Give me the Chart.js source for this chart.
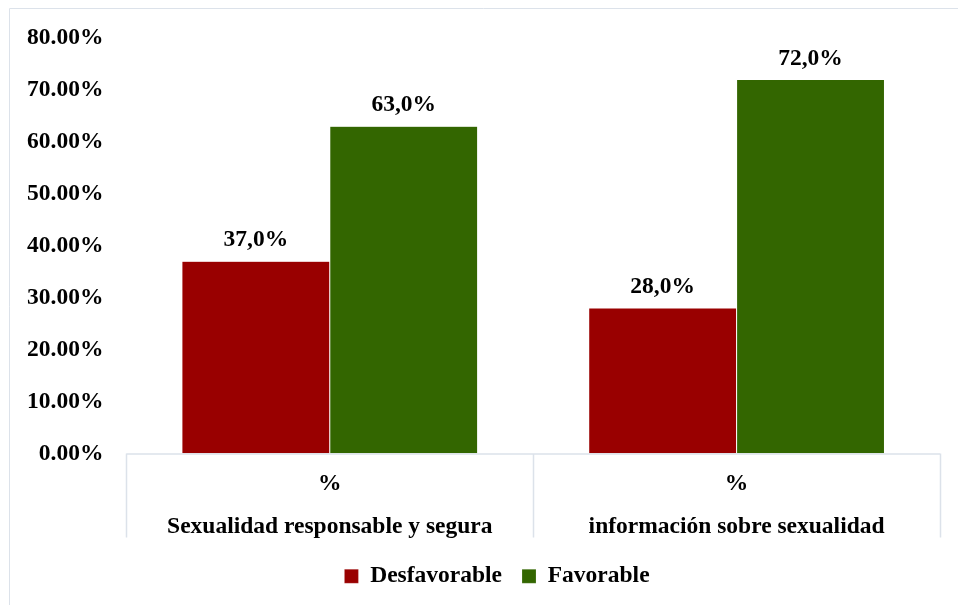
<!DOCTYPE html>
<html><head><meta charset="utf-8">
<script src="https://cdn.jsdelivr.net/npm/chart.js@4"></script>
<style>html,body{margin:0;padding:0;background:#fff;}#wrap{width:958px;height:605px;position:relative;}</style>
</head><body><div id="wrap"><canvas id="c" width="958" height="605"></canvas></div>
<script>
const categories = [["%", "Sexualidad responsable y segura"], ["%", "información sobre sexualidad"]];
const seriesNames = ["Desfavorable", "Favorable"];
const desfavorable = [37.0, 28.0];
const favorable = [63.0, 72.0];
const yTicks = [0, 10, 20, 30, 40, 50, 60, 70, 80];

const FONT = "'Liberation Serif', 'Times New Roman', serif";
const FS = 23.5;
const LINE = "#dce2ea";

const framePlugin = {
  id: 'frame',
  beforeDraw(chart) {
    const ctx = chart.ctx;
    ctx.save();
    ctx.strokeStyle = LINE;
    ctx.lineWidth = 1;
    ctx.beginPath();
    ctx.moveTo(9.5, chart.height);
    ctx.lineTo(9.5, 8.5);
    ctx.lineTo(chart.width, 8.5);
    ctx.stroke();
    ctx.restore();
  }
};

// nudge the legend block (layout only)
const legendShift = {
  id: 'legendShift',
  afterLayout(chart) {
    const lg = chart.legend;
    if (!lg) return;
    lg.left += 25; lg.right += 25;
    lg.top -= 13; lg.bottom -= 13;
  }
};

const sepPlugin = {
  id: 'seps',
  afterDraw(chart) {
    const x = chart.scales.x, ctx = chart.ctx;
    const n = x.ticks.length;
    const bounds = [x.left];
    for (let i = 0; i < n - 1; i++) bounds.push((x.getPixelForTick(i) + x.getPixelForTick(i + 1)) / 2);
    bounds.push(x.right);
    const y0 = chart.chartArea.bottom;
    ctx.save();
    ctx.strokeStyle = LINE;
    ctx.lineWidth = 1.5;
    ctx.beginPath();
    ctx.moveTo(x.left, y0 + 0.5); ctx.lineTo(x.right, y0 + 0.5);
    bounds.forEach(b => { ctx.moveTo(Math.round(b) + 0.5, y0); ctx.lineTo(Math.round(b) + 0.5, y0 + 84); });
    ctx.stroke();
    ctx.restore();
  }
};

const labelPlugin = {
  id: 'vals',
  afterDatasetsDraw(chart) {
    const ctx = chart.ctx;
    ctx.save();
    ctx.font = "bold " + FS + "px " + FONT;
    ctx.fillStyle = "#000";
    ctx.textAlign = "center";
    ctx.textBaseline = "alphabetic";
    chart.data.datasets.forEach((ds, di) => {
      chart.getDatasetMeta(di).data.forEach((bar, i) => {
        const t = ds.data[i].toFixed(1).replace('.', ',') + '%';
        ctx.fillText(t, bar.x, bar.y - 15);
      });
    });
    ctx.restore();
  }
};

new Chart(document.getElementById('c'), {
  type: 'bar',
  data: {
    labels: categories,
    datasets: [
      { label: seriesNames[0], data: desfavorable, backgroundColor: '#990000', borderColor: 'rgba(255,255,255,0.35)', borderWidth: 0.5 },
      { label: seriesNames[1], data: favorable, backgroundColor: '#336600', borderColor: 'rgba(255,255,255,0.35)', borderWidth: 0.5 }
    ]
  },
  options: {
    responsive: false,
    animation: false,
    devicePixelRatio: 1,
    layout: { padding: { top: 38, right: 18, left: 4, bottom: -6 } },
    datasets: { bar: { categoryPercentage: 0.727, barPercentage: 1.0 } },
    scales: {
      y: {
        min: 0, max: 80,
        afterBuildTicks(axis) { axis.ticks = yTicks.map(v => ({ value: v })); },
        grid: { display: false, drawTicks: false },
        border: { display: false },
        ticks: {
          padding: 23,
          color: '#000',
          font: { family: FONT, size: FS, weight: 'bold' },
          callback: v => v.toFixed(2) + '%'
        }
      },
      x: {
        grid: { display: false, drawTicks: false },
        border: { display: false },
        ticks: {
          padding: 9,
          color: '#000',
          maxRotation: 0,
          font: { family: FONT, size: FS, weight: 'bold', lineHeight: 1.83 }
        }
      }
    },
    plugins: {
      legend: {
        position: 'bottom',
        labels: {
          color: '#000',
          boxWidth: 14, boxHeight: 14,
          padding: 20,
          font: { family: FONT, size: FS, weight: 'bold' }
        }
      },
      tooltip: { enabled: false }
    }
  },
  plugins: [framePlugin, legendShift, sepPlugin, labelPlugin]
});
</script></body></html>
